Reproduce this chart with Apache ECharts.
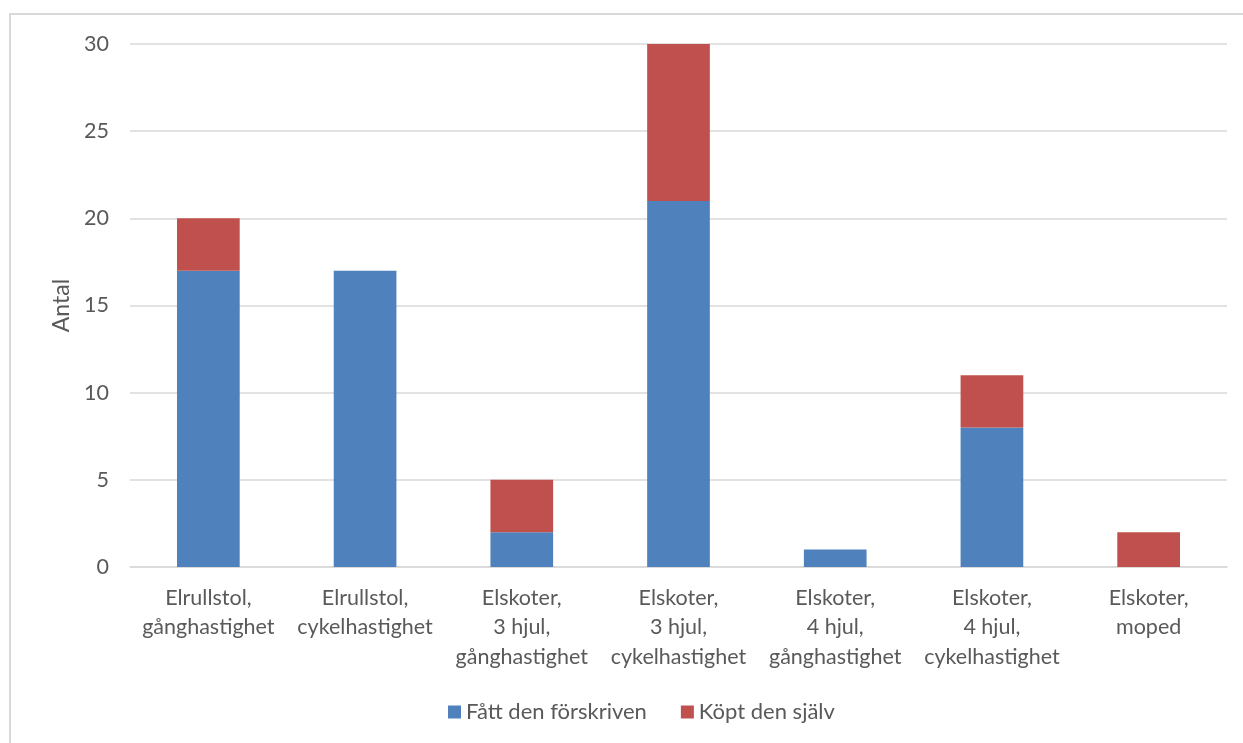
<!DOCTYPE html>
<html>
<head>
<meta charset="utf-8">
<script src="https://cdn.jsdelivr.net/npm/echarts@6/dist/echarts.min.js"></script>
<style>
  html, body { margin: 0; padding: 0; background: #fff; }
  #frame { position: absolute; left: 9px; top: 13px; width: 1240px; height: 740px; border: 2px solid #d9d9d9; box-sizing: border-box; }
  #chart { position: absolute; left: 0; top: 0; width: 1243px; height: 743px; }
</style>
</head>
<body>
<div id="frame"></div>
<div id="chart"></div>
<script>
const categories = [
  'Elrullstol,\ngånghastighet',
  'Elrullstol,\ncykelhastighet',
  'Elskoter,\n3 hjul,\ngånghastighet',
  'Elskoter,\n3 hjul,\ncykelhastighet',
  'Elskoter,\n4 hjul,\ngånghastighet',
  'Elskoter,\n4 hjul,\ncykelhastighet',
  'Elskoter,\nmoped'
];
const prescribed = [17, 17, 2, 21, 1, 8, 0];
const boughtSelf = [3, 0, 3, 9, 0, 3, 2];
const seriesNames = ['Fått den förskriven', 'Köpt den själv'];
const yTicks = { min: 0, max: 30, interval: 5 };

const font = 'Lato, "Open Sans", sans-serif';
const chart = echarts.init(document.getElementById('chart'), null, { renderer: 'canvas' });
chart.setOption({
  animation: false,
  grid: { left: 130, right: 16, top: 44, bottom: 176 },
  legend: {
    bottom: 15,
    left: 443,
    itemWidth: 13,
    itemHeight: 13,
    itemGap: 34,
    icon: 'rect',
    textStyle: { color: '#595959', fontSize: 22, fontFamily: font },
    data: seriesNames
  },
  xAxis: {
    type: 'category',
    data: categories,
    axisLine: { lineStyle: { color: '#d9d9d9', width: 1.5 } },
    axisTick: { show: false },
    axisLabel: { color: '#595959', fontSize: 21.5, fontFamily: font, lineHeight: 29.5, margin: 16, interval: 0 }
  },
  yAxis: {
    type: 'value',
    min: yTicks.min,
    max: yTicks.max,
    interval: yTicks.interval,
    name: 'Antal',
    nameLocation: 'middle',
    nameGap: 56,
    nameRotate: 90,
    nameTextStyle: { color: '#595959', fontSize: 23, fontFamily: font },
    axisLine: { show: false },
    axisTick: { show: false },
    axisLabel: { color: '#595959', fontSize: 21.5, fontFamily: font, margin: 21 },
    splitLine: { lineStyle: { color: '#d9d9d9', width: 1.5 } }
  },
  series: [
    {
      name: seriesNames[0], type: 'bar', stack: 'total', barWidth: '40%',
      itemStyle: { color: '#4f81bd' },
      data: prescribed
    },
    {
      name: seriesNames[1], type: 'bar', stack: 'total', barWidth: '40%',
      itemStyle: { color: '#c0504d' },
      data: boughtSelf
    }
  ]
});
</script>
</body>
</html>
